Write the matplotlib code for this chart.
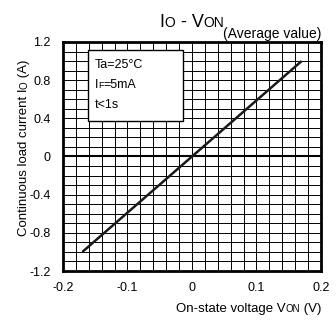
import numpy as np
import matplotlib
matplotlib.use("Agg")
import matplotlib.pyplot as plt

plt.rcParams['font.family'] = ['Liberation Sans', 'DejaVu Sans']

# Data
von = [-0.17, 0.17]
io = [-1.0, 1.0]
xticks = [-0.2, -0.1, 0.0, 0.1, 0.2]
xticklabels = ['-0.2', '-0.1', '0', '0.1', '0.2']
yticks = [-1.2, -0.8, -0.4, 0.0, 0.4, 0.8, 1.2]
yticklabels = ['-1.2', '-0.8', '-0.4', '0', '0.4', '0.8', '1.2']
conditions = [[("Ta=25°C", 9)], [("I", 9), ("F", 6.5), ("=5mA", 9)], [("t<1s", 9)]]

W, H = 336, 320
fig = plt.figure(figsize=(W / 100, H / 100), dpi=100)
ax = fig.add_axes([63 / W, 1 - 271 / H, (321 - 63) / W, (271 - 42) / H])
ax.set_xlim(-0.2, 0.2)
ax.set_ylim(-1.2, 1.2)

# grid
for x in np.arange(-0.18, 0.19, 0.02):
    ax.axvline(x, color='black', lw=0.7, zorder=1)
for y in np.arange(-1.1, 1.15, 0.1):
    ax.axhline(y, color='black', lw=1.5 if abs(y) < 1e-9 else 0.7, zorder=1)

ax.plot(von, io, color='#1a1a1a', lw=1.8, zorder=3, solid_capstyle='butt')

ax.set_xticks(xticks)
ax.set_xticklabels(xticklabels, fontsize=9)
ax.set_yticks(yticks)
ax.set_yticklabels(yticklabels, fontsize=9)
ax.tick_params(axis='y', length=0, pad=9)
ax.tick_params(axis='x', length=0, pad=8)
for s in ax.spines.values():
    s.set_linewidth(2)
    s.set_zorder(5)

# condition box
from matplotlib.patches import Rectangle
ax.add_patch(Rectangle((-0.162, 0.375), 0.1476, 0.741, facecolor='white',
                       edgecolor='black', lw=1.0, zorder=4))

fig.canvas.draw()
renderer = fig.canvas.get_renderer()


def seq_text(segments, x_px, y_px, align='left', rotation=0):
    """Place text segments with varying sizes along a baseline; coords in pixels from top-left."""
    arts = []
    for txt, size in segments:
        t = fig.text(0, 0, txt, fontsize=size, rotation=rotation,
                     rotation_mode='anchor', ha='left', va='baseline', zorder=6)
        arts.append(t)
    lens = []
    for t in arts:
        bb = t.get_window_extent(renderer)
        lens.append(bb.height if rotation == 90 else bb.width)
    total = sum(lens)
    if align == 'right':
        start = -total
    elif align == 'center':
        start = -total / 2
    else:
        start = 0
    pos = start
    for t, L in zip(arts, lens):
        if rotation == 90:
            t.set_position((x_px / W, (H - y_px + pos) / H))
        else:
            t.set_position(((x_px + pos) / W, (H - y_px) / H))
        pos += L
    return arts


# title
seq_text([("I", 13), ("O", 10), (" - V", 13), ("ON", 10)], 192, 27, align='center')
seq_text([("(Average value)", 10)], 321, 38, align='right')
# x label
seq_text([("On-state voltage V", 9.5), ("ON", 7), (" (V)", 9.5)], 321, 312, align='right')
# y label
seq_text([("Continuous load current I", 9.5), ("O", 7), (" (A)", 9.5)], 27, 148, align='center', rotation=90)

# conditions
for i, segs in enumerate(conditions):
    seq_text(segs, 95, 68 + i * 20, align='left')

fig.savefig('out.png', dpi=100)
